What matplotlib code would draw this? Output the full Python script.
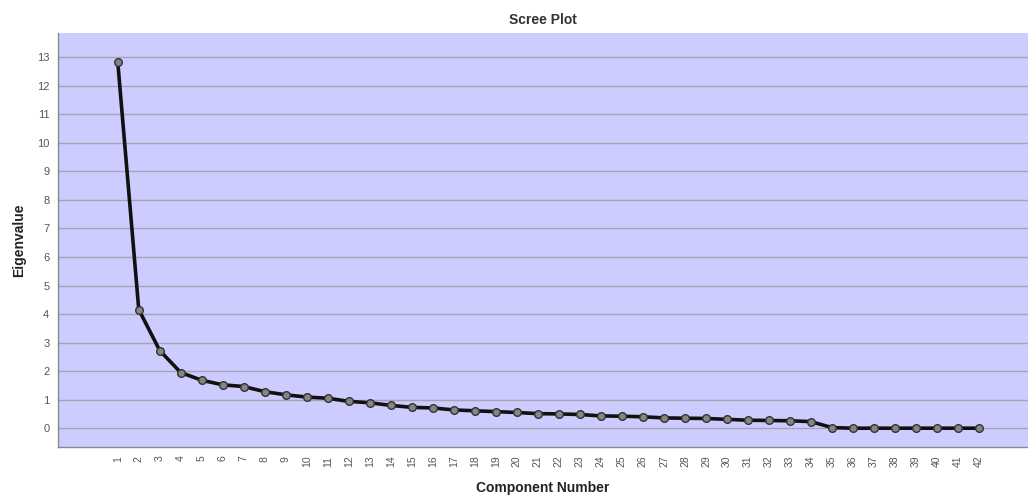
import matplotlib
matplotlib.use("Agg")
import matplotlib.pyplot as plt

components = list(range(1, 43))
eigenvalues = [12.84, 4.16, 2.72, 1.95, 1.68, 1.52, 1.46, 1.28, 1.17, 1.09,
               1.05, 0.94, 0.89, 0.80, 0.73, 0.71, 0.64, 0.61, 0.58, 0.55,
               0.51, 0.50, 0.48, 0.43, 0.42, 0.40, 0.36, 0.35, 0.34, 0.31,
               0.28, 0.27, 0.26, 0.23, 0.02, 0.0, 0.0, 0.0, 0.0, 0.0, 0.0, 0.0]
y_ticks = list(range(0, 14))

plt.rcParams['font.family'] = ['Liberation Sans', 'DejaVu Sans']

fig = plt.figure(figsize=(10.28, 4.98), dpi=100)
ax = fig.add_axes([0.0561, 0.1018, 1 - 0.0561, 0.933 - 0.1018])
ax.set_facecolor('#ccccff')

ax.plot(components, eigenvalues, color='#111111', lw=2.6, marker='o',
        markersize=5.5, markerfacecolor='#858585', markeredgecolor='#333333',
        markeredgewidth=1.0, zorder=3)

ax.set_xlim(-1.86, 44.33)
ax.set_ylim(-0.67, 13.84)
ax.set_xticks(components)
ax.set_xticklabels([str(c) for c in components], rotation=90, fontsize=7.5, color='#555555')
ax.set_yticks(y_ticks)
ax.set_yticklabels([str(v) for v in y_ticks], fontsize=8, color='#555555')
ax.tick_params(axis='both', length=0, pad=6)
ax.grid(axis='y', color='#a4a4b4', lw=1.0)
ax.set_axisbelow(True)
for s in ['top', 'right']:
    ax.spines[s].set_visible(False)
for s in ['left', 'bottom']:
    ax.spines[s].set_color('#8a8a8a')
    ax.spines[s].set_linewidth(1.0)

ax.set_title('Scree Plot', fontsize=10, fontweight='bold', color='#333333', pad=7)
ax.set_xlabel('Component Number', fontsize=10, fontweight='bold', color='#222222', labelpad=10)
ax.set_ylabel('Eigenvalue', fontsize=10, fontweight='bold', color='#222222', labelpad=8)

fig.savefig('out.png', dpi=100, facecolor='white')
